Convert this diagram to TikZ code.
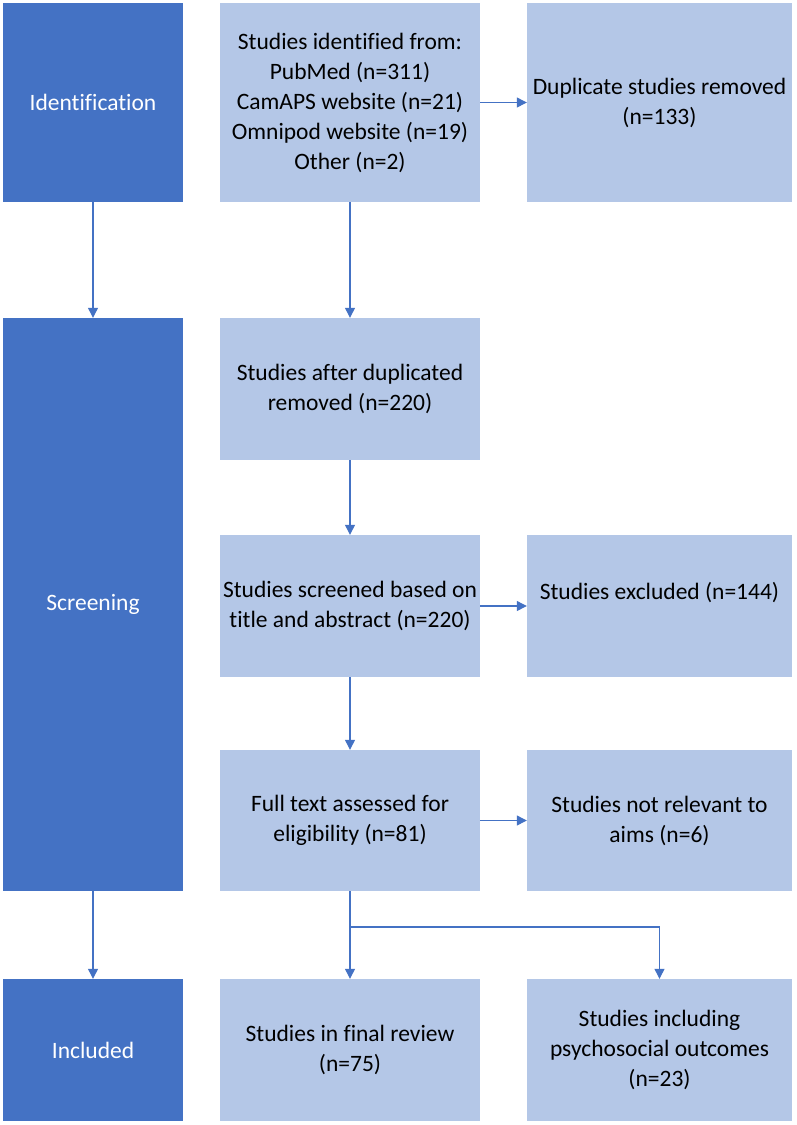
\documentclass[tikz,border=0pt]{standalone}
\usepackage{fontspec}
\setmainfont[Ligatures=NoCommon]{Carlito}
\usetikzlibrary{arrows.meta}
\definecolor{darkbox}{HTML}{4472C4}
\definecolor{lightbox}{HTML}{B4C7E7}
\begin{document}
\begin{tikzpicture}[x=1pt,y=-1pt,
  stage/.style={fill=darkbox, text=white, inner sep=0pt, align=center,
    font=\fontsize{23.5}{30}\selectfont},
  infobox/.style={fill=lightbox, text=black, inner sep=0pt, align=center,
    font=\fontsize{23.5}{30}\selectfont},
  flow/.style={draw=darkbox, line width=1.2pt, -{Triangle[length=10pt,width=10pt]}}]
\useasboundingbox (0,0) rectangle (797,1125);
% stage column
\node[stage, minimum width=180pt, minimum height=199pt] (id) at (93,102.5) {Identification};
\node[stage, minimum width=180pt, minimum height=573pt] (scr) at (93,604.5) {Screening};
\node[stage, minimum width=180pt, minimum height=142pt] (inc) at (93,1050) {Included};
% middle column
\node[infobox, minimum width=260pt, minimum height=199pt] (m1) at (350,102.5)
  {Studies identified from:\\PubMed (n=311)\\CamAPS website (n=21)\\Omnipod website (n=19)\\Other (n=2)};
\node[infobox, minimum width=260pt, minimum height=142pt] (m2) at (350,389)
  {Studies after duplicated\\removed (n=220)};
\node[infobox, minimum width=260pt, minimum height=142pt] (m3) at (350,606)
  {Studies screened based on\\title and abstract (n=220)};
\node[infobox, minimum width=260pt, minimum height=141pt] (m4) at (350,820.5)
  {Full text assessed for\\eligibility (n=81)};
\node[infobox, minimum width=260pt, minimum height=142pt] (m5) at (350,1050)
  {Studies in final review\\(n=75)};
% right column
\node[infobox, minimum width=265pt, minimum height=199pt] (r1) at (659.5,102.5)
  {Duplicate studies removed\\(n=133)};
\node[infobox, minimum width=265pt, minimum height=142pt] (r3) at (659.5,606)
  {Studies excluded (n=144)\\\mbox{}};
\node[infobox, minimum width=265pt, minimum height=141pt] (r4) at (659.5,820.5)
  {Studies not relevant to\\aims (n=6)};
\node[infobox, minimum width=265pt, minimum height=142pt] (r5) at (659.5,1050)
  {Studies including\\psychosocial outcomes\\(n=23)};
% connectors
\draw[flow] (id) -- (scr);
\draw[flow] (scr) -- (inc);
\draw[flow] (m1) -- (m2);
\draw[flow] (m2) -- (m3);
\draw[flow] (m3) -- (m4);
\draw[flow] (m4) -- (m5);
\draw[flow] (m1) -- (r1);
\draw[flow] (m3) -- (r3);
\draw[flow] (m4) -- (r4);
\coordinate (split) at (350,927);
\draw[flow] (split) -| (r5.north);
\end{tikzpicture}
\end{document}
